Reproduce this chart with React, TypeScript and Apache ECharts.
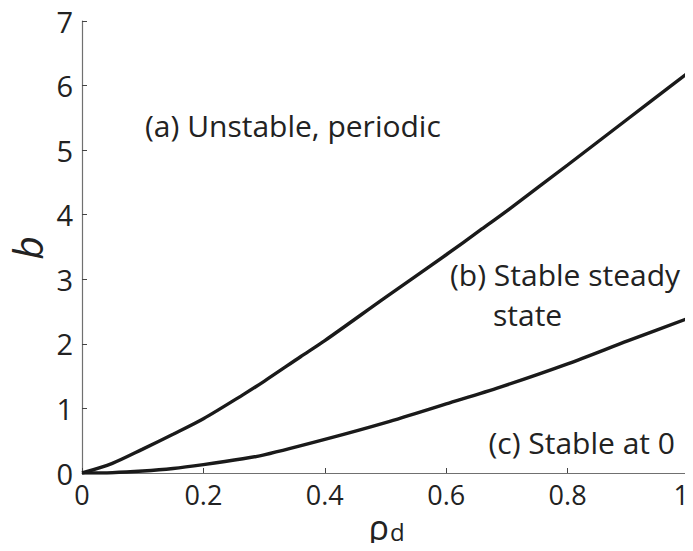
import React, { useEffect, useRef } from "react";
import * as echarts from "echarts";

const upperX = [0, 0.05, 0.1, 0.15, 0.2, 0.265, 0.3, 0.36, 0.4, 0.5, 0.6, 0.656, 0.7, 0.8, 0.9, 1];
const upperY = [0, 0.15, 0.37, 0.6, 0.84, 1.21, 1.42, 1.8, 2.05, 2.72, 3.38, 3.76, 4.06, 4.77, 5.49, 6.21];
const lowerX = [0, 0.05, 0.1, 0.15, 0.2, 0.265, 0.3, 0.4, 0.5, 0.6, 0.689, 0.8, 0.9, 1];
const lowerY = [0, 0.005, 0.03, 0.07, 0.13, 0.22, 0.28, 0.52, 0.78, 1.07, 1.33, 1.69, 2.05, 2.4];
const xTicks = [0, 0.2, 0.4, 0.6, 0.8, 1];
const yTicks = [0, 1, 2, 3, 4, 5, 6, 7];
const labels = ["(a) Unstable, periodic", "(b) Stable steady", "state", "(c) Stable at 0"];
const yName = "b";
const xNameMain = "ρ";
const xNameSub = "d";

const FONT = "'Open Sans', 'Noto Sans', sans-serif";

export default function App() {
  const ref = useRef<HTMLDivElement>(null);
  useEffect(() => {
    if (!ref.current) return;
    const chart = echarts.init(ref.current, null, { renderer: "svg" });
    const axisLine = { show: true, lineStyle: { color: "#707070", width: 1.2 } };
    const txt = (text: string, x: number, y: number, align: string, fontSize = 30, extra: any = {}) => ({
      type: "text",
      x,
      y,
      ...extra,
      style: { text, fontSize, fontFamily: FONT, fill: "#222", align, verticalAlign: "middle", ...(extra.style || {}) },
    });
    chart.setOption({
      animation: false,
      backgroundColor: "#fff",
      grid: { left: 82, right: 4, top: 21, bottom: 78, outerBoundsMode: "none", containLabel: false },
      xAxis: {
        type: "value",
        min: 0,
        max: 1,
        interval: 0.2,
        axisLine,
        axisTick: { show: true, inside: true, length: 5, lineStyle: { color: "#444" } },
        splitLine: { show: false },
        axisLabel: {
          fontSize: 27,
          fontFamily: FONT,
          color: "#222",
          margin: 8,
          alignMaxLabel: "right",
          formatter: (v: number) => (xTicks.includes(Number(v.toFixed(2))) ? String(Number(v.toFixed(2))) : ""),
        },
      },
      yAxis: {
        type: "value",
        min: 0,
        max: 7,
        interval: 1,
        axisLine,
        axisTick: { show: true, inside: true, length: 5, lineStyle: { color: "#444" } },
        splitLine: { show: false },
        axisLabel: {
          fontSize: 29,
          fontFamily: FONT,
          color: "#222",
          margin: 9,
          formatter: (v: number) => (yTicks.includes(v) ? String(v) : ""),
        },
      },
      series: [
        {
          type: "line",
          data: upperX.map((x, i) => [x, upperY[i]]),
          showSymbol: false,
          smooth: 0.3,
          lineStyle: { color: "#1a1a1a", width: 3.4 },
          z: 3,
        },
        {
          type: "line",
          data: lowerX.map((x, i) => [x, lowerY[i]]),
          showSymbol: false,
          smooth: 0.3,
          lineStyle: { color: "#1a1a1a", width: 3.4 },
          z: 3,
        },
      ],
      graphic: [
        txt(labels[0], 145, 125, "left"),
        txt(labels[1], 450, 274, "left"),
        txt(labels[2], 493, 314, "left"),
        txt(labels[3], 675, 442, "right"),
        txt(yName, 27, 248, "center", 41, { rotation: Math.PI / 2, style: { fontStyle: "italic" } }),
        txt(xNameMain, 389, 527, "right", 34),
        txt(xNameSub, 390, 531, "left", 24),
      ],
    });
    return () => chart.dispose();
  }, []);
  return <div ref={ref} style={{ width: 693, height: 551, margin: -8 }} />;
}
